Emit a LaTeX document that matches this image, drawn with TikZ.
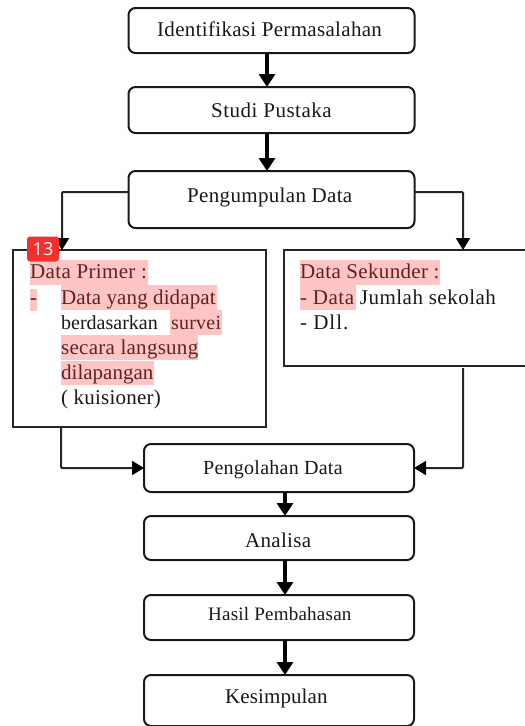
\documentclass[tikz,border=0pt]{standalone}
\usepackage{fontspec}
\setmainfont{Liberation Serif}
\newfontfamily\badgefont{Open Sans}
\usetikzlibrary{arrows.meta}
\newcommand{\fsz}[2]{\fontsize{#1}{#1}\selectfont\addfontfeatures{LetterSpace=#2}}
\tikzset{
  flowbox/.style={draw=black!90,line width=2pt,rounded corners=7pt,anchor=north west,inner sep=0pt,outer sep=0pt},
  plainbox/.style={draw=black!85,line width=2pt,anchor=north west,inner sep=0pt,outer sep=0pt},
  bigarrow/.style={line width=4.5pt,-{Triangle[length=13pt,width=16pt]}},
  thinarrow/.style={draw=black!85,line width=2pt,-{Triangle[length=12pt,width=14pt,color=black]},rounded corners=1pt},
  bodytext/.style={anchor=base west,inner sep=0pt,text=black!90},
  hilite/.style={fill=red!75!white,fill opacity=.3,draw=none},
}
\begin{document}
\begin{tikzpicture}[x=1pt,y=-1pt]
\useasboundingbox (0,0) rectangle (525,726);
\fill[white] (0,0) rectangle (525,726);
\node[flowbox,minimum width=286pt,minimum height=45pt] (a) at (128.5,8) {};
\node[flowbox,minimum width=286pt,minimum height=46pt] (b) at (128.5,87) {};
\node[flowbox,minimum width=286pt,minimum height=57pt] (c) at (128.5,171) {};
\node[plainbox,minimum width=253pt,minimum height=177pt] (p) at (13,250) {};
\node[plainbox,minimum width=250pt,minimum height=116pt] (s) at (283.5,250) {};
\node[flowbox,minimum width=270pt,minimum height=48pt] (d) at (144,444) {};
\node[flowbox,minimum width=270pt,minimum height=44pt] (e) at (144,516) {};
\node[flowbox,minimum width=270pt,minimum height=45pt] (f) at (144,595) {};
\node[flowbox,minimum width=270pt,minimum height=51pt] (g) at (144,675) {};

\node[bodytext,font=\fsz{21}{1.5}] (at) at (157,36) {Identifikasi Permasalahan};
\node[bodytext,font=\fsz{21}{2.4}] (bt) at (211,117) {Studi Pustaka};
\node[bodytext,font=\fsz{21}{1.6}] (ct) at (187,202) {Pengumpulan Data};
\node[bodytext,font=\fsz{20}{1.3}] (dt) at (203,474) {Pengolahan Data};
\node[bodytext,font=\fsz{21}{1.4}] (et) at (245,547) {Analisa};
\node[bodytext,font=\fsz{19}{1.3}] (ft) at (208,620) {Hasil Pembahasan};
\node[bodytext,font=\fsz{21}{.5}] (gt) at (225,703) {Kesimpulan};

\coordinate (pin) at (62,250);
\coordinate (pout) at (61,428);
\coordinate (sin) at (463,250);
\coordinate (sout) at (463,368);

\draw[bigarrow] (a.south -| 267,0) -- (b.north -| 267,0);
\draw[bigarrow] (b.south -| 267,0) -- (c.north -| 267,0);
\draw[bigarrow] (d.south -| 285,0) -- (e.north -| 285,0);
\draw[bigarrow] (e.south -| 285,0) -- (f.north -| 285,0);
\draw[bigarrow] (f.south -| 285,0) -- (g.north -| 285,0);
\draw[thinarrow] (c.west |- 0,192) -| (pin);
\draw[thinarrow] (c.east |- 0,192) -| (sin);
\draw[thinarrow] (pout) |- (d.west);
\draw[thinarrow] (sout) |- (d.east);

\node[bodytext,font=\fsz{21}{1.7}] (t1) at (30,278) {Data Primer :};
\node[bodytext,font=\fsz{21}{0}] (t2) at (30,304) {-};
\node[bodytext,font=\fsz{21}{.6}] (t3) at (61,304) {Data yang didapat};
\node[bodytext,font=\fsz{20}{0}] (t4) at (61,329) {berdasarkan};
\node[bodytext,font=\fsz{20}{1}] (t4b) at (171,329) {survei};
\node[bodytext,font=\fsz{21}{1.3}] (t5) at (61,354) {secara langsung};
\node[bodytext,font=\fsz{21}{0}] (t6) at (61,379) {dilapangan};
\node[bodytext,font=\fsz{21}{1.1}] (t7) at (61,404) {( kuisioner)};
\node[bodytext,font=\fsz{21}{1.6}] (u1) at (300,278) {Data Sekunder :};
\node[bodytext,font=\fsz{21}{2.4}] (u2) at (300,304) {- Data Jumlah sekolah};
\node[bodytext,font=\fsz{21}{4.5}] (u3) at (300,329) {- Dll.};

\fill[hilite] (30,260) rectangle (148,285);
\fill[hilite] (30,289) rectangle (37,311);
\fill[hilite] (61,285) rectangle (217,310);
\fill[hilite] (170,310) rectangle (222,335);
\fill[hilite] (61,335) rectangle (198,360);
\fill[hilite] (61,361) rectangle (154,385);
\fill[hilite] (300,260) rectangle (440,285);
\fill[hilite] (300,285) rectangle (356,310);

\node[fill=red!80!white!95!black,rounded corners=3pt,minimum width=32pt,minimum height=25pt,inner sep=0pt,text=white,font=\badgefont\fontsize{18}{18}\selectfont] (badge) at (43,249) {13};
\end{tikzpicture}
\end{document}
